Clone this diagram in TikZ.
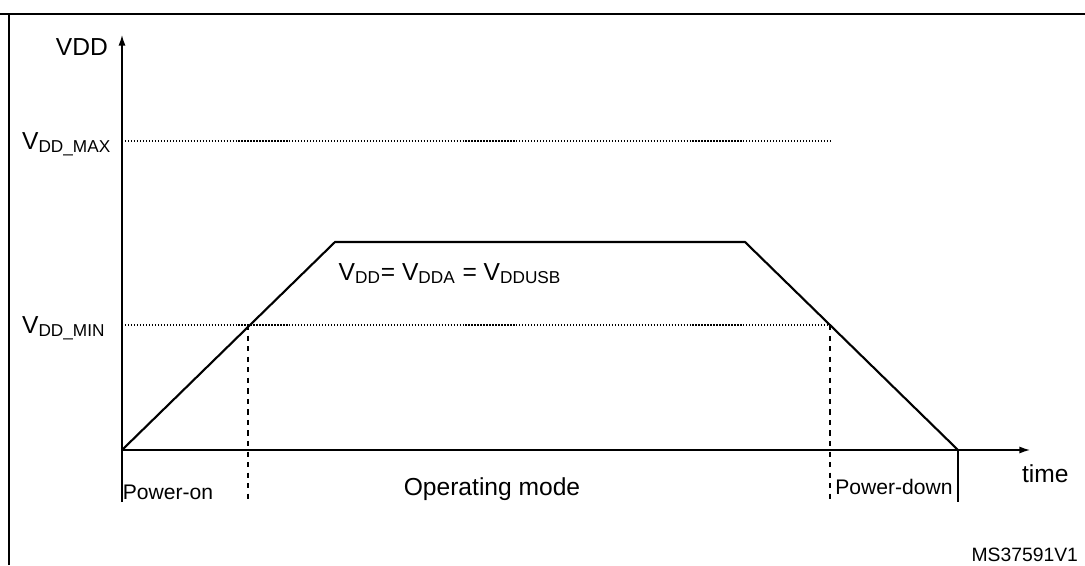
\documentclass[tikz,border=0pt]{standalone}
\usepackage{fontspec}
\setmainfont{Liberation Sans}
\usetikzlibrary{arrows.meta}

\begin{document}
\begin{tikzpicture}[
    x=0.02cm, y=-0.02cm,
    every node/.style={font=\fontsize{14}{16}\selectfont, inner sep=1pt},
    lvl/.style={densely dotted, line width=0.7pt},
    mark line/.style={dashed, line width=0.7pt},
    axis/.style={line width=0.8pt, -{Latex[length=6pt,width=4pt]}}
]
\useasboundingbox (0,0) rectangle (1085,565);

% Cadre
\draw[line width=0.8pt] (9,565) -- (9,14) -- (1085,14);
\draw[line width=1pt] (0,14) -- (1085,14);

% Axes
\coordinate (o) at (122,450);
\coordinate (ytop) at (122,35);
\coordinate (xend) at (1030,450);
\draw[axis] (122,502) -- (ytop);
\draw[axis] (o) -- (xend);
\node[anchor=base east] (vdd) at (110,55) {VDD};
\node[anchor=base west] (time) at (1020,482) {time};

% Niveaux
\coordinate (maxl) at (122,141);
\coordinate (maxr) at (830,141);
\coordinate (minl) at (122,325);
\coordinate (p1) at (248,325);
\coordinate (p2) at (830,325);
\draw[lvl] (maxl) -- (maxr);
\draw[lvl] (minl) -- (p2);
\node[anchor=base west] (vmax) at (20,149) {V\textsubscript{DD\_MAX}};
\node[anchor=base west] (vmin) at (20,333) {V\textsubscript{DD\_MIN}};

% Courbe
\coordinate (a) at (335,242);
\coordinate (b) at (745,242);
\coordinate (e) at (958,450);
\draw[line width=1.2pt, line join=miter] (o) -- (a) -- (b) -- (e);
\node[anchor=base] (eq) at (450,280) {V\textsubscript{DD}= V\textsubscript{DDA} = V\textsubscript{DDUSB}};

% Phases
\draw[mark line] (p1) -- (248,502);
\draw[mark line] (p2) -- (830,502);
\draw[line width=0.8pt] (e) -- (958,502);
\node (pon) at (168,492) {\fontsize{12}{14}\selectfont Power-on};
\node (op) at (492,489) {Operating mode};
\node (pdown) at (894,487) {\fontsize{12}{14}\selectfont Power-down};
\node[anchor=east] (ref) at (1080,555) {\fontsize{11}{13}\selectfont MS37591V1};
\end{tikzpicture}
\end{document}
